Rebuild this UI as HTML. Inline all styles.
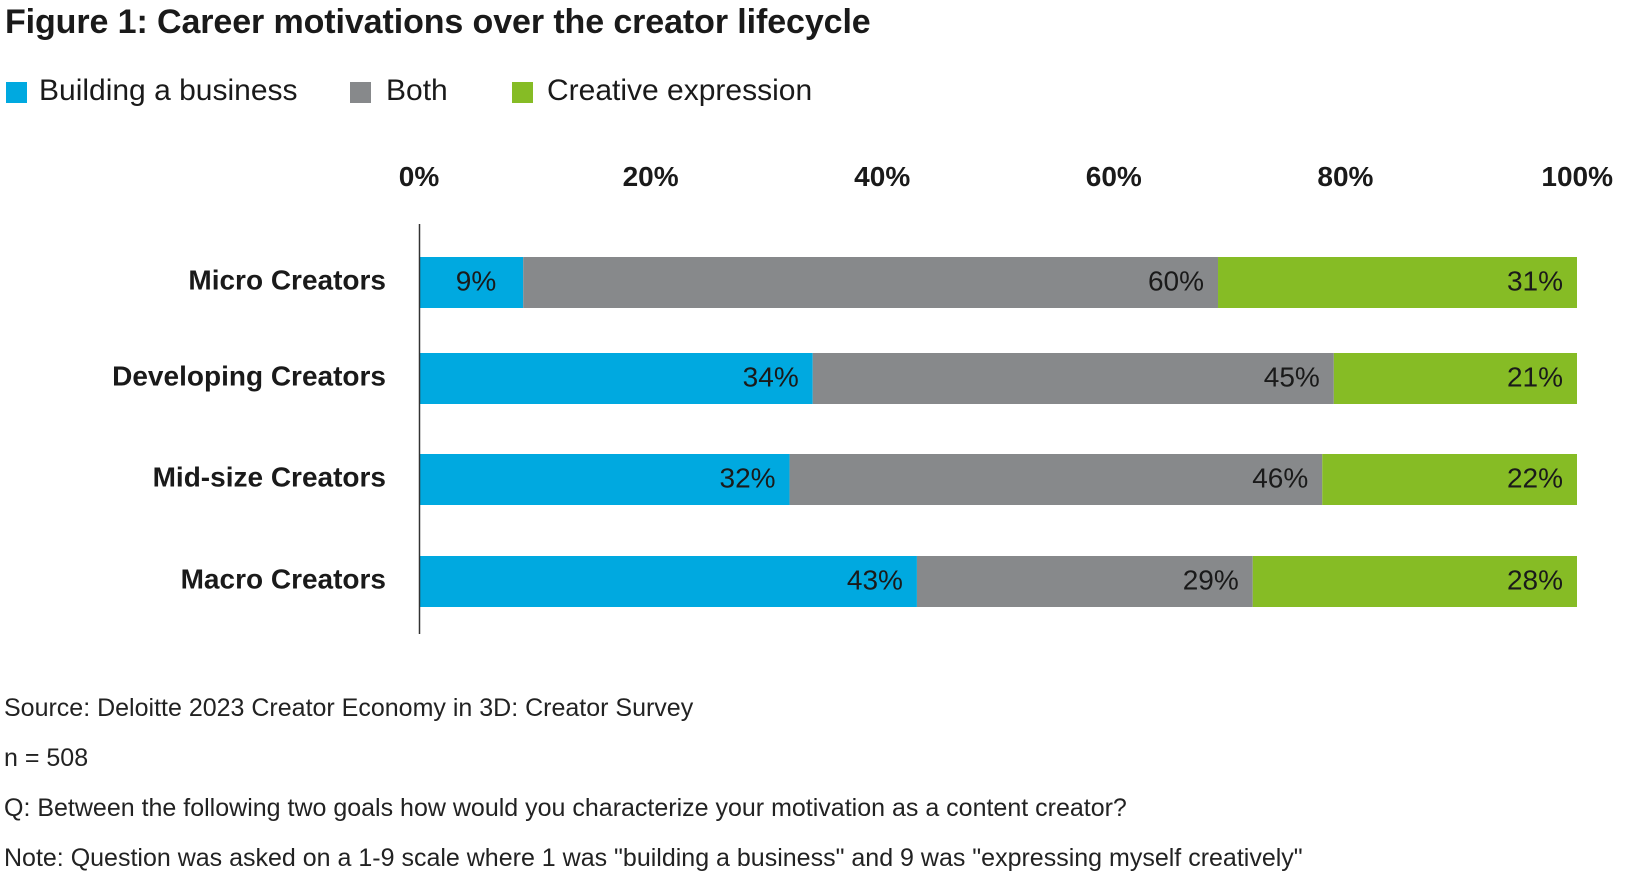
<!DOCTYPE html>
<html><head><meta charset="utf-8"><style>
body{margin:0;width:1634px;height:878px;background:#fff;font-family:"Liberation Sans",sans-serif;color:#1a1a1a;overflow:hidden;position:relative}
.t{position:absolute;white-space:nowrap}
</style></head><body>
<div class="t" style="left:5px;top:3px;font-size:34px;font-weight:bold;letter-spacing:-0.1px">Figure 1: Career motivations over the creator lifecycle</div>
<div>
<div style="position:absolute;left:6px;top:82px;width:21px;height:21px;background:#00A9E0"></div>
<div class="t" style="left:39px;top:74px;font-size:30px">Building a business</div>
<div style="position:absolute;left:350px;top:82px;width:21px;height:21px;background:#87898B"></div>
<div class="t" style="left:386px;top:74px;font-size:30px">Both</div>
<div style="position:absolute;left:512px;top:82px;width:21px;height:21px;background:#86BC25"></div>
<div class="t" style="left:547px;top:74px;font-size:30px">Creative expression</div>
</div>
<svg id="chart" width="1634" height="878" style="position:absolute;left:0;top:0"></svg>
<div class="t" style="left:4px;top:694px;font-size:25px;color:#222">Source: Deloitte 2023 Creator Economy in 3D: Creator Survey</div>
<div class="t" style="left:4px;top:744px;font-size:25px;color:#222">n = 508</div>
<div class="t" style="left:4px;top:794px;font-size:25px;color:#222">Q: Between the following two goals how would you characterize your motivation as a content creator?</div>
<div class="t" style="left:4px;top:844px;font-size:25px;color:#222">Note: Question was asked on a 1-9 scale where 1 was "building a business" and 9 was "expressing myself creatively"</div>
<script>
const categories=["Micro Creators","Developing Creators","Mid-size Creators","Macro Creators"];
const business=[9,34,32,43];
const both=[60,45,46,29];
const creative=[31,21,22,28];
const ticks=[0,20,40,60,80,100];
const svg=document.getElementById('chart');
const NS='http://www.w3.org/2000/svg';
const x=v=>419+v*(1577-419)/100;
const barTops=[257,353,454,556];const barH=51;
const y=i=>barTops[i];
function mk(t,a){const e=document.createElementNS(NS,t);for(const k in a)e.setAttribute(k,a[k]);svg.appendChild(e);return e;}
ticks.forEach(v=>{
 const e=mk('text',{x:x(v),y:186,'text-anchor':v===100?'end':'middle','font-size':28,'font-weight':'bold','font-family':'Liberation Sans, sans-serif',fill:'#1a1a1a'});
 if(v===100)e.setAttribute('x',x(v)+36);
 e.textContent=v+'%';
 
 
});
const series=[[business,'#00A9E0','business'],[both,'#87898B','both'],[creative,'#86BC25','creative']];
categories.forEach((c,i)=>{
 const l=mk('text',{x:386,y:y(i)+barH/2+7,'text-anchor':'end','font-size':28,'font-weight':'bold','font-family':'Liberation Sans, sans-serif',fill:'#1a1a1a'});
 l.textContent=c;
 
 
 let acc=0;
 series.forEach(([arr,col,nm])=>{
  const v=arr[i];
  const r=mk('rect',{x:x(acc),y:y(i),width:x(acc+v)-x(acc),height:barH,fill:col});
  
  
  acc+=v;
  const t=mk('text',{x:x(acc)-(v<15?27:14),y:y(i)+barH/2+8,'text-anchor':'end','font-size':28,'font-family':'Liberation Sans, sans-serif',fill:'#1a1a1a'});
  t.textContent=v+'%';
  
  
 });
});
const ax=mk('line',{x1:419.5,x2:419.5,y1:224,y2:634,stroke:'#333','stroke-width':1.5});


</script>
</body></html>
